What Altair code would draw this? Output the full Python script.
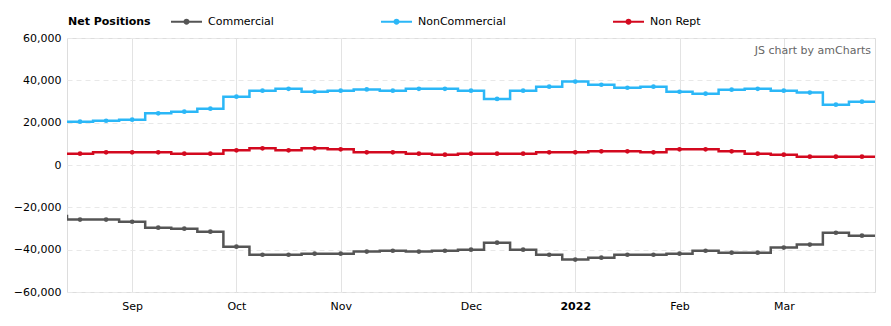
import altair as alt
import pandas as pd

# ---- data (weekly, Tuesdays) ----
dates = pd.date_range("2021-08-24", periods=31, freq="7D").strftime("%Y-%m-%d").tolist()
prior_date = "2021-08-17"
next_date = "2022-03-29"

commercial = [-25800, -25800, -26800, -29600, -30100, -31500, -38600, -42400, -42400, -41900,
              -41900, -40900, -40500, -40900, -40500, -40000, -36700, -40000, -42400, -44700,
              -43800, -42400, -42400, -41900, -40500, -41400, -41400, -39000, -37600, -32000,
              -33400]
noncommercial = [20450, 20900, 21400, 24400, 25200, 26600, 32300, 35100, 36000, 34600,
                 35100, 35700, 35100, 36000, 36000, 35100, 31200, 35100, 37000, 39400,
                 37900, 36500, 37000, 34600, 33700, 35600, 36000, 35100, 34200, 28500,
                 29900]
nonrept = [5350, 6000, 6000, 6000, 5350, 5350, 6930, 7870, 6930, 7870,
           7400, 6000, 6000, 5350, 4880, 5350, 5350, 5350, 6000, 6000,
           6460, 6460, 6000, 7400, 7400, 6460, 5350, 4880, 3940, 3940,
           3940]
prior_values = {"Commercial": -24100, "NonCommercial": 20450, "Non Rept": 5350}

series_names = ["Commercial", "NonCommercial", "Non Rept"]
series_colors = ["#555555", "#2bb7f7", "#d3091f"]
series_values = [commercial, noncommercial, nonrept]
legend_title = "Net Positions"
credit_text = "JS chart by amCharts"

x_ticks = ["2021-09-07", "2021-10-05", "2021-11-02", "2021-12-07", "2022-01-04", "2022-02-01", "2022-03-01"]
y_ticks = [-60000, -40000, -20000, 0, 20000, 40000, 60000]

# ---- tables ----
pt_rows = []
line_rows = []
for name, vals in zip(series_names, series_values):
    line_rows.append({"date": prior_date, "value": prior_values[name], "series": name})
    for d, v in zip(dates, vals):
        pt_rows.append({"date": d, "value": v, "series": name})
        line_rows.append({"date": d, "value": v, "series": name})
    line_rows.append({"date": next_date, "value": vals[-1], "series": name})
pts = pd.DataFrame(pt_rows)
lines = pd.DataFrame(line_rows)

FONT = "DejaVu Sans"

def dt(s, h=0):
    y, m, d = [int(p) for p in s.split("-")]
    return alt.DateTime(year=y, month=m, date=d, hours=h, utc=True)

x_enc = alt.X(
    "date:T",
    scale=alt.Scale(type="utc", domain=[dt("2021-08-20", 12), dt("2022-03-25", 12)]),
    axis=alt.Axis(
        title=None,
        values=[dt(s) for s in x_ticks],
        labelExpr="utcmonth(datum.value) == 0 ? utcFormat(datum.value, '%Y') : utcFormat(datum.value, '%b')",
        labelFontWeight={"condition": {"test": "utcmonth(datum.value) == 0", "value": "bold"}, "value": "normal"},
        grid=True, gridColor="#e3e3e3", gridWidth=1,
        domain=False, ticks=False, labelPadding=8,
        labelFont=FONT, labelFontSize=11, labelColor="#000000",
    ),
)
y_enc = alt.Y(
    "value:Q",
    scale=alt.Scale(domain=[-60000, 60000], nice=False),
    axis=alt.Axis(
        title=None, values=y_ticks, format=",.0f",
        grid=True, gridColor="#e8e8e8", gridDash=[5, 4],
        domain=False, ticks=False, labelPadding=6,
        labelFont=FONT, labelFontSize=11, labelColor="#000000",
    ),
)

legend = alt.Legend(
    orient="none", legendX=103, legendY=-33, direction="horizontal",
    title=None,
    labelFont=FONT, labelFontSize=11, labelColor="#000000", labelOffset=5,
    symbolType="M-1,0L1,0M-0.13,0A0.13,0.13,0,1,1,0.13,0A0.13,0.13,0,1,1,-0.13,0",
    symbolSize=961, symbolStrokeWidth=2, columnPadding=103,
)
color_enc = alt.Color(
    "series:N",
    scale=alt.Scale(domain=series_names, range=series_colors),
    legend=legend,
)

line_layer = alt.Chart(lines).mark_line(interpolate="step", strokeWidth=2.5, clip=True).encode(
    x=x_enc, y=y_enc, color=color_enc
)
point_layer = alt.Chart(pts).mark_point(filled=True, size=22, opacity=1, clip=True).encode(
    x=x_enc, y=y_enc, color=color_enc
)
credit = alt.Chart(pd.DataFrame({"t": [credit_text]})).mark_text(
    align="right", baseline="middle", font=FONT, fontSize=11, color="#666666"
).encode(x=alt.value(804), y=alt.value(13), text="t:N")
title_txt = alt.Chart(pd.DataFrame({"t": [legend_title]})).mark_text(
    align="left", baseline="middle", font=FONT, fontSize=11, fontWeight="bold", color="#000000"
).encode(x=alt.value(1), y=alt.value(-16), text="t:N")

chart = alt.layer(line_layer, point_layer, credit, title_txt).properties(
    width=808, height=254,
    padding={"left": 67, "top": 38, "right": 16, "bottom": 34},
    autosize="none",
).configure_view(stroke=None).configure(background="white")

chart.save("out.html", embed_options={"renderer": "svg", "actions": False})
